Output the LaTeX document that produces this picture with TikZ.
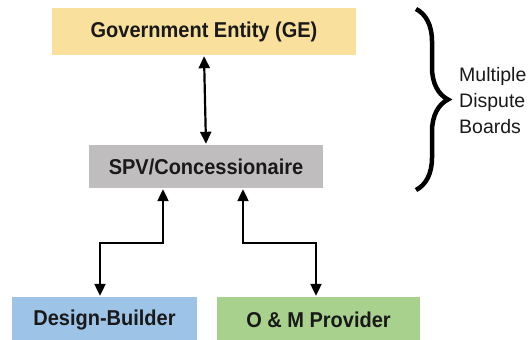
\documentclass[tikz,border=0pt]{standalone}
\usepackage{fontspec}
\setmainfont{Liberation Sans}
\newfontfamily\boxfont{Liberation Sans}[FakeStretch=0.93]
\usetikzlibrary{arrows.meta,decorations.pathreplacing}
\definecolor{geyellow}{HTML}{F9E09D}
\definecolor{spvgray}{HTML}{BFBDBE}
\definecolor{dbblue}{HTML}{9DC3E6}
\definecolor{omgreen}{HTML}{A9D18E}
\tikzset{
  party/.style={draw=none, inner sep=0pt, font=\boxfont\fontsize{21.5}{24}\selectfont\bfseries, text=black!90},
  link/.style={line width=2.2pt, {Triangle[width=11pt,length=12pt]}-{Triangle[width=11pt,length=12pt]}, shorten <=1pt, shorten >=1pt},
}
\begin{document}
\begin{tikzpicture}[x=1pt,y=-1pt]
\useasboundingbox (0,0) rectangle (531,340);
% parties
\node[party, fill=geyellow, minimum width=304pt, minimum height=47pt] (ge) at (204,31.5) {Government Entity (GE)};
\node[party, fill=spvgray, minimum width=234pt, minimum height=43pt] (spv) at (206,166.5) {SPV/Concessionaire};
\node[party, fill=dbblue, minimum width=185pt, minimum height=46pt] (db) at (104.5,320) {Design-Builder};
\node[party, fill=omgreen, minimum width=203pt, minimum height=46pt] (om) at (318.5,320) {O \& M Provider};
% contract links
\coordinate (mid) at (0,243);
\draw[link] (ge.south) -- (spv.north);
\draw[link] ([xshift=-43pt]spv.south) -- ([xshift=-43pt]spv.south |- mid) -| ([xshift=-4.5pt]db.north);
\draw[link] ([xshift=37pt]spv.south) -- ([xshift=37pt]spv.south |- mid) -| ([xshift=-2.5pt]om.north);
% dispute boards brace
\coordinate (btop) at (416,9);
\coordinate (bbot) at (416,190);
\draw[line width=4.5pt, decorate, decoration={brace, amplitude=32pt}] (btop) -- (bbot);
\node[anchor=west, align=left, inner sep=0pt, font=\fontsize{19.5}{26}\selectfont, text=black!90] (mdb) at (459,101) {Multiple\\Dispute\\Boards};
\end{tikzpicture}
\end{document}
